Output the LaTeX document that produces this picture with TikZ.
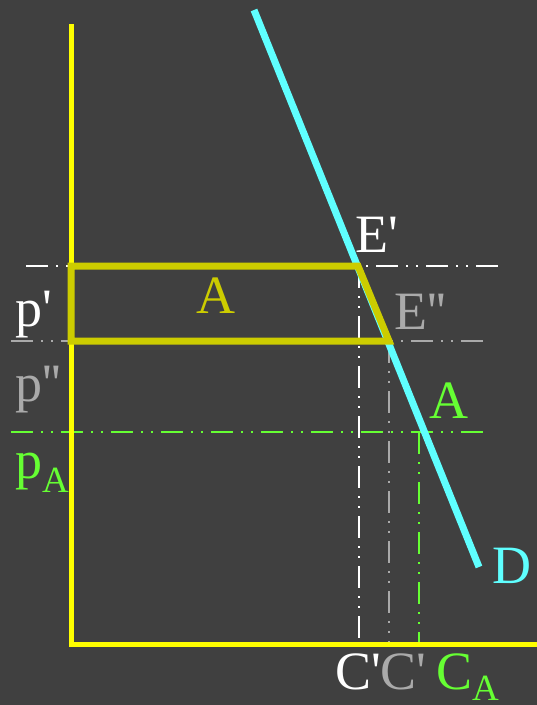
\documentclass[tikz,border=0pt]{standalone}
\usepackage{fontspec}
\setmainfont{Liberation Serif}[Ligatures=TeXOff]
\usepackage{xcolor}
\usepackage{tikz}

\definecolor{bgdark}{HTML}{404040}
\definecolor{axisyellow}{HTML}{FFFF00}
\definecolor{demandcyan}{HTML}{5FFFFF}
\definecolor{areaolive}{HTML}{CCCC00}
\definecolor{midgray}{HTML}{AAAAAA}
\definecolor{lightgreen}{HTML}{66FF33}

\newcommand{\subA}[1]{\raisebox{-#1}{\fontsize{37}{40}\selectfont A}}

\begin{document}
\begin{tikzpicture}[
      x=1pt, y=-1pt,
      axis/.style={draw=axisyellow, line width=5pt},
      demand/.style={draw=demandcyan, line width=7pt},
      area/.style={draw=areaolive, line width=7pt},
      guide/.style={
          line width=2pt,
          dash pattern=on 22pt off 8pt on 2pt off 8pt on 2pt off 8pt
      },
      lbl/.style={font=\fontsize{54}{60}\selectfont, inner sep=0pt}
  ]

  % ══════════════════════════════
  % FOND
  % ══════════════════════════════
  \fill[bgdark] (0,0) rectangle (537,705);
  \useasboundingbox (0,0) rectangle (537,705);

  % ══════════════════════════════
  % POINTS
  % ══════════════════════════════
  \coordinate (O)    at (71,644);
  \coordinate (ytop) at (71,24);
  \coordinate (xend) at (537,644);

  \coordinate (Dtop) at (254,10);
  \coordinate (Dbot) at (479,567);

  \coordinate (Ep)   at (358,266);
  \coordinate (Epp)  at (389,341);
  \coordinate (pp)   at (71,266);
  \coordinate (ppp)  at (71,341);

  \coordinate (ppL)  at (26,266);
  \coordinate (ppR)  at (503,266);
  \coordinate (pppL) at (11,341);
  \coordinate (pppR) at (488,341);
  \coordinate (pAL)  at (11,432);
  \coordinate (pAR)  at (488,432);

  \coordinate (Cp)   at (359,644);
  \coordinate (CpT)  at (359,266);
  \coordinate (Cpp)  at (389,644);
  \coordinate (CppT) at (389,341);
  \coordinate (CA)   at (419,644);
  \coordinate (CAT)  at (419,432);

  % ══════════════════════════════
  % LIGNES DE RAPPEL
  % ══════════════════════════════
  \draw[guide, white] (ppL) -- (ppR);
  \draw[guide, midgray] (pppL) -- (pppR);
  \draw[guide, lightgreen] (pAL) -- (pAR);

  \draw[guide, white] (CpT) -- (Cp);
  \draw[guide, midgray] (CppT) -- (Cpp);
  \draw[guide, lightgreen] (CAT) -- (CA);

  % ══════════════════════════════
  % AXES
  % ══════════════════════════════
  \draw[axis] (ytop) -- (O) -- (xend);

  % ══════════════════════════════
  % DEMANDE + AIRE
  % ══════════════════════════════
  \draw[demand] (Dtop) -- (Dbot);

  \draw[area] (pp) -- (Ep) -- (Epp) -- (ppp) -- cycle;

  % ══════════════════════════════
  % TEXTES
  % ══════════════════════════════
  \node[lbl, anchor=base, text=areaolive] (areaA) at (216,313) {A};
  \node[lbl, anchor=base west, text=white] (Eplab) at (355,252) {E'};
  \node[lbl, anchor=base west, text=midgray] (Epplab) at (394,329) {E''};
  \node[lbl, anchor=base, text=lightgreen] (Alab) at (449,418) {A};
  \node[lbl, anchor=base west, text=demandcyan] (Dlab) at (492,583) {D};

  \node[lbl, anchor=base west, text=white] (pplab) at (15,326) {p'};
  \node[lbl, anchor=base west, text=midgray] (ppplab) at (15,401) {p''};
  \node[lbl, anchor=base west, text=lightgreen] (pAlab) at (15,478) {p\subA{14pt}};

  \node[lbl, anchor=base west, text=white] (Cplab) at (335,689) {C'};
  \node[lbl, anchor=base west, text=midgray] (Cpplab) at (380,689) {C'};
  \node[lbl, anchor=base west, text=lightgreen] (CAlab) at (436,689) {C\subA{11pt}};

\end{tikzpicture}
\end{document}
